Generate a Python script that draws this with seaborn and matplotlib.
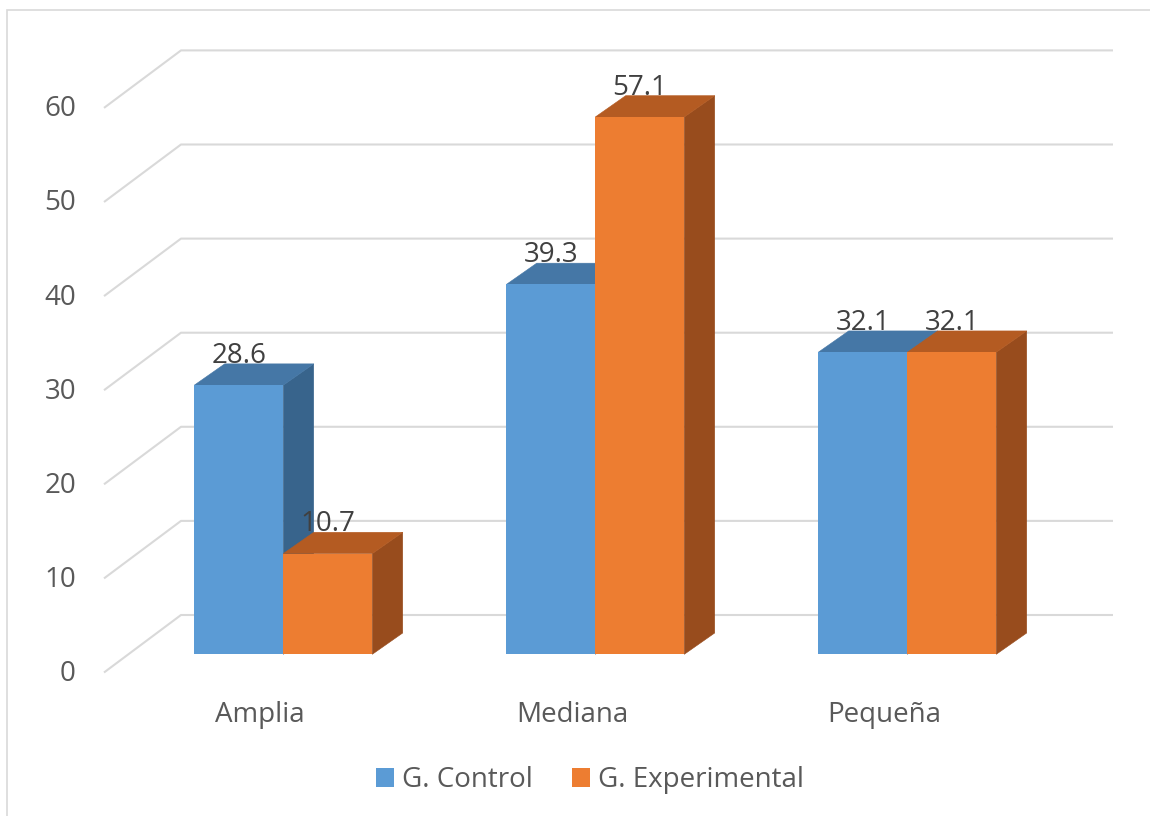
import matplotlib
matplotlib.use("Agg")
import matplotlib.pyplot as plt
from matplotlib.patches import Polygon, Rectangle, Patch
import pandas as pd
import seaborn as sns

# ---- data ----
categorias = ["Amplia", "Mediana", "Pequeña"]
grupos = ["G. Control", "G. Experimental"]
control = [28.6, 39.3, 32.1]
experimental = [10.7, 57.1, 32.1]
ticks_y = [0, 10, 20, 30, 40, 50, 60]

df = pd.DataFrame({
    "categoria": categorias * 2,
    "grupo": [grupos[0]] * 3 + [grupos[1]] * 3,
    "valor": control + experimental,
})

# ---- style ----
sns.set_style("white")
plt.rcParams["font.family"] = ["Open Sans", "DejaVu Sans"]
TXT = "#595959"
LBL = "#404040"
GRID = "#D9D9D9"
front_c = ["#5B9BD5", "#ED7D31"]
top_c = ["#4577A6", "#B45B22"]
side_c = ["#38648C", "#984C1D"]
FS = 20

W, H = 1150, 816
fig = plt.figure(figsize=(W / 100, H / 100), dpi=100)
ax = fig.add_axes([0, 0, 1, 1])

# pixel layout of the plotting plane
X0_PX, X_STEP = 283.3, 312.0      # first group centre, group spacing
Y0_PX, Y_STEP = 654.3, 9.41       # baseline, pixels per unit

def px_x(p):
    return (p - X0_PX) / X_STEP

def px_y(p):
    return (Y0_PX - p) / Y_STEP

# depth offsets (data units)
DX, DY = 30.4 / X_STEP, 21.3 / Y_STEP          # bar depth
BACK_DY = px_y(615)                             # back wall relative to bar plane
FRONT_DY = px_y(672.5)                          # front edge of floor
WALL_BACK_X = px_x(181)
WALL_FRONT_X = px_x(104)
WALL_RIGHT_X = px_x(1113)

sns.barplot(data=df, x="categoria", y="valor", hue="grupo",
            palette=front_c, saturation=1, width=0.5705, linewidth=0,
            legend=False, ax=ax)

# back wall and side wall gridlines
for v in ticks_y:
    ax.plot([WALL_FRONT_X, WALL_BACK_X, WALL_RIGHT_X],
            [v + FRONT_DY, v + BACK_DY, v + BACK_DY],
            color=GRID, lw=1.5, zorder=1, solid_capstyle="butt")
    ax.text(px_x(76), v + FRONT_DY - 0.15, f"{v}", ha="right", va="center",
            fontsize=FS, color=TXT)

# 3D faces and value labels
for j, cont in enumerate(ax.containers):
    for rect in cont:
        x0, w, h = rect.get_x(), rect.get_width(), rect.get_height()
        top = [(x0, h), (x0 + w, h), (x0 + w + DX, h + DY), (x0 + DX, h + DY)]
        side = [(x0 + w, 0), (x0 + w + DX, DY), (x0 + w + DX, h + DY), (x0 + w, h)]
        ax.add_patch(Polygon(side, closed=True, facecolor=side_c[j],
                             edgecolor=side_c[j], lw=0.4, zorder=2 + 2 * j))
        ax.add_patch(Polygon(top, closed=True, facecolor=top_c[j],
                             edgecolor=top_c[j], lw=0.4, zorder=2 + 2 * j))
        rect.set_zorder(3 + 2 * j)
        ax.text(x0 + w / 2, h + DY + 0.1, f"{h:.1f}", ha="center",
                va="baseline", fontsize=FS, color=LBL, zorder=10)

# category labels along the front edge
for i, c in enumerate(categorias):
    ax.text(i + px_x(260) - px_x(283.3), px_y(715), c, ha="center",
            va="center", fontsize=FS, color=TXT)

ax.set_xlim(px_x(0), px_x(W))
ax.set_ylim(px_y(H), px_y(0))
ax.axis("off")

handles = [Patch(facecolor=front_c[k], edgecolor="none", label=g)
           for k, g in enumerate(grupos)]
fig.legend(handles=handles, loc="center", bbox_to_anchor=(590 / W, 1 - 780 / H),
           ncol=2, frameon=False, fontsize=FS, labelcolor=TXT,
           handlelength=0.65, handleheight=0.65, handletextpad=0.3,
           columnspacing=1.4, borderpad=0)

# outer chart border
fig.add_artist(Rectangle((7 / W, -0.1), 1.2, 1 - 10 / H + 0.1,
                         transform=fig.transFigure, fill=False,
                         edgecolor=GRID, lw=1.2))

fig.savefig("out.png", dpi=100)
